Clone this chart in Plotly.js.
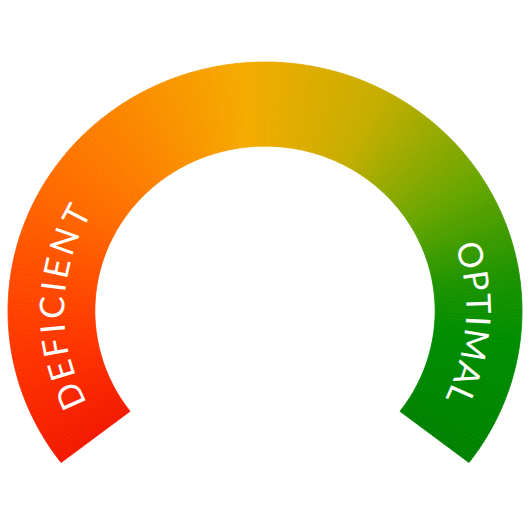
<!DOCTYPE html>
<html>
<head>
<meta charset="utf-8">
<script src="https://cdn.plot.ly/plotly-3.0.1.min.js"></script>
<style>html,body{margin:0;padding:0;background:#fff;}#chart{width:532px;height:528px;}</style>
</head>
<body>
<div id="chart"></div>
<script>
// ---- data ----
const zoneLabels = ['DEFICIENT', 'OPTIMAL'];
const stopPositions = [0, 0.1, 0.18, 0.265, 0.373, 0.48, 0.61, 0.725, 0.82, 0.88, 1];
const stopColors = ['#f21a00', '#ff3300', '#ff4c00', '#ff6a00', '#fb8a00', '#f5ab00', '#c4ae00', '#6aa600', '#1e9400', '#008e00', '#008200'];

// ---- geometry / style ----
const startDeg = 217.5, endDeg = -37.5;
const rOuter = 1, rInner = 0.662;
const nSeg = 255;
const fontFamily = 'Lato';
const fontSize = 34;
const labelRadius = 0.835;
const labelSpans = [[204.4, 152.5], [15.7, -24.1]];

function hexToRgb(h) { return [1, 3, 5].map(i => parseInt(h.substr(i, 2), 16)); }
function colorAt(t) {
  let k = 0;
  while (k < stopPositions.length - 2 && t > stopPositions[k + 1]) k++;
  const a = stopPositions[k], b = stopPositions[k + 1];
  const f = Math.max(0, Math.min(1, (t - a) / (b - a)));
  const c0 = hexToRgb(stopColors[k]), c1 = hexToRgb(stopColors[k + 1]);
  const c = c0.map((v, i) => Math.round(v + (c1[i] - v) * f));
  return 'rgb(' + c.join(',') + ')';
}

const traces = [];
for (let i = 0; i < nSeg; i++) {
  const t0 = i / nSeg, t1 = (i + 1) / nSeg;
  const a0 = (startDeg + (endDeg - startDeg) * t0) * Math.PI / 180;
  const a1 = (startDeg + (endDeg - startDeg) * t1) * Math.PI / 180;
  const col = colorAt((t0 + t1) / 2);
  traces.push({
    type: 'scatter', mode: 'lines', hoverinfo: 'skip',
    x: [rOuter * Math.cos(a0), rOuter * Math.cos(a1), rInner * Math.cos(a1), rInner * Math.cos(a0), rOuter * Math.cos(a0)],
    y: [rOuter * Math.sin(a0), rOuter * Math.sin(a1), rInner * Math.sin(a1), rInner * Math.sin(a0), rOuter * Math.sin(a0)],
    fill: 'toself', fillcolor: col, line: {color: col, width: 0.8}
  });
}

// letter placement along the arc
const cv = document.createElement('canvas').getContext('2d');
cv.font = fontSize + 'px ' + fontFamily;
const annotations = [];
zoneLabels.forEach((word, w) => {
  const letters = word.split('');
  const widths = letters.map(ch => cv.measureText(ch).width);
  const [th0, th1] = labelSpans[w];
  const centers = [];
  let acc = 0;
  widths.forEach((wd) => { centers.push(acc + wd / 2); acc += wd; });
  const base = centers[centers.length - 1] - centers[0];
  const n = letters.length - 1;
  const rPx = 212 * labelRadius / 0.84;
  const spanPx = Math.abs(th0 - th1) * Math.PI / 180 * rPx;
  const sp = (spanPx - base) / n;
  letters.forEach((ch, i) => {
    const d = centers[i] - centers[0] + sp * i;
    const th = th0 - (d / spanPx) * (th0 - th1);
    const rad = th * Math.PI / 180;
    annotations.push({
      x: labelRadius * Math.cos(rad), y: labelRadius * Math.sin(rad),
      xref: 'x', yref: 'y', text: ch, showarrow: false,
      xanchor: 'center', yanchor: 'middle',
      textangle: 90 - th,
      font: {family: fontFamily, size: fontSize, color: '#ffffff'}
    });
  });
});

const xmin = -1 - 8 / 257, ymax = 311 / 249;
const layout = {
  width: 532, height: 528,
  margin: {l: 0, r: 0, t: 0, b: 0},
  paper_bgcolor: '#ffffff', plot_bgcolor: '#ffffff',
  showlegend: false, hovermode: false,
  xaxis: {range: [xmin, xmin + 532 / 257], visible: false, fixedrange: true},
  yaxis: {range: [ymax - 528 / 249, ymax], visible: false, fixedrange: true},
  annotations: annotations
};
Plotly.newPlot('chart', traces, layout, {staticPlot: true, displayModeBar: false});
</script>
</body>
</html>
